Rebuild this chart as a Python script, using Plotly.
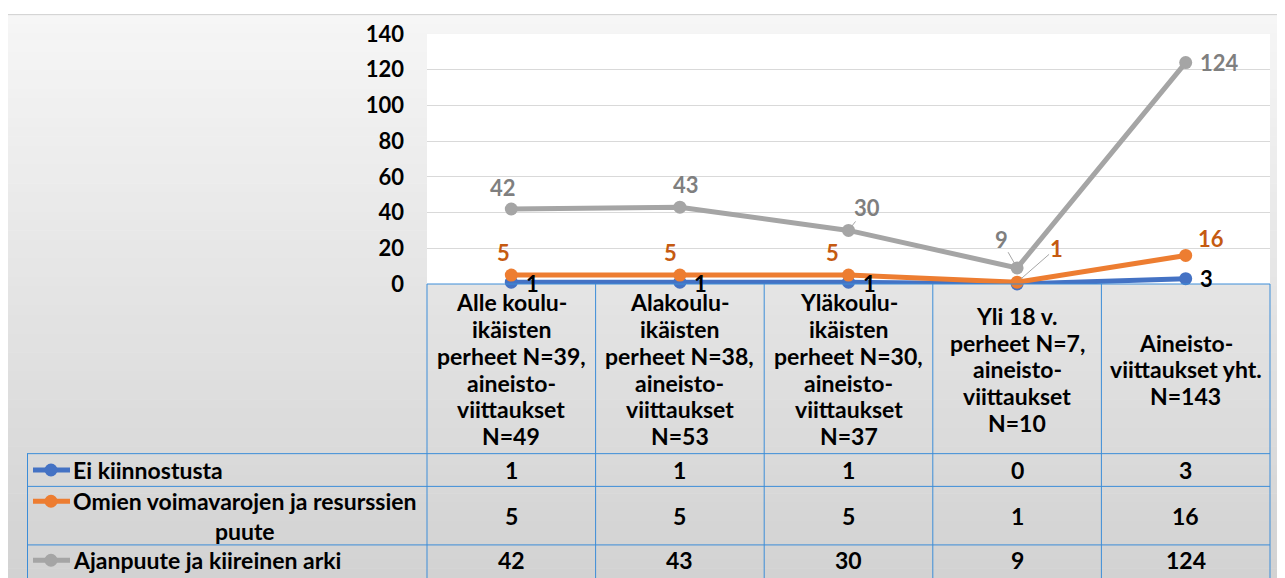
import plotly.graph_objects as go

# ---------------- data ----------------
categories = [
    "Alle koulu-<br>ikäisten<br>perheet N=39,<br>aineisto-<br>viittaukset<br>N=49",
    "Alakoulu-<br>ikäisten<br>perheet N=38,<br>aineisto-<br>viittaukset<br>N=53",
    "Yläkoulu-<br>ikäisten<br>perheet N=30,<br>aineisto-<br>viittaukset<br>N=37",
    "Yli 18 v.<br>perheet N=7,<br>aineisto-<br>viittaukset<br>N=10",
    "Aineisto-<br>viittaukset yht.<br>N=143",
]
series_names = ["Ei kiinnostusta", "Omien voimavarojen ja resurssien puute", "Ajanpuute ja kiireinen arki"]
table_names = ["Ei kiinnostusta", "Omien voimavarojen ja resurssien<br>puute", "Ajanpuute ja kiireinen arki"]
ei_kiinnostusta = [1, 1, 1, 0, 3]
omien_voimavarat = [5, 5, 5, 1, 16]
ajanpuute = [42, 43, 30, 9, 124]
y_ticks = [0, 20, 40, 60, 80, 100, 120, 140]

series_values = [ei_kiinnostusta, omien_voimavarat, ajanpuute]

# ---------------- styles ----------------
OFF = 8                      # page body margin of the html page
W, H = 1285 - OFF, 578 - OFF  # figure size
# reference pixel coordinates of the plot area (window coords)
L, R, T, B = 427, 1270, 32, 284
FONT = "Lato"
line_colors = ["#4472C4", "#ED7D31", "#A5A5A5"]
label_colors = ["#000000", "#C55A11", "#7F7F7F"]
grid_color = "#D9D9D9"
table_color = "#3C8DD8"
leader_color = "#A6A6A6"
# (xshift, yshift, leader line?) for each data label, per series; None = hidden
label_offsets = [
    [(21, -1, False), (21, -1, False), (21, -1, False), None, (21, 0, False)],
    [(-8, 23, False), (-9, 23, False), (-16, 23, False), (39, 34, True), (25, 17, False)],
    [(-8, 22, False), (6, 23, False), (18, 23, True), (-16, 28, True), (34, 0, False)],
]


def px_x(p):
    return (p - L) / (R - L)


def px_y(p):
    return (B - p) / (B - T)


fig = go.Figure()
for name, vals, col in zip(series_names, series_values, line_colors):
    fig.add_trace(go.Scatter(
        x=categories, y=vals, name=name, mode="lines+markers",
        line=dict(color=col, width=5), marker=dict(color=col, size=13),
        cliponaxis=False, hoverinfo="x+y+name",
    ))

shapes = []
# gradient background of chart area
top_px, bot_px = 12, 580
n_bands = 60
step = (bot_px - top_px) / n_bands
for i in range(n_bands):
    y0 = top_px + i * step
    y1 = y0 + step + 0.6
    c = round(246 - (y0 + step / 2 - top_px) * (36 / (bot_px - top_px)))
    shapes.append(dict(type="rect", xref="paper", yref="paper", layer="below",
                       x0=px_x(7), x1=px_x(1290), y0=px_y(y1), y1=px_y(y0),
                       fillcolor=f"rgb({c},{c},{c})", line=dict(width=0)))
# chart border
shapes.append(dict(type="line", xref="paper", yref="paper", layer="below",
                   x0=px_x(7.5), x1=px_x(7.5), y0=px_y(12), y1=px_y(590),
                   line=dict(color="#D0D0D0", width=1)))
shapes.append(dict(type="line", xref="paper", yref="paper", layer="below",
                   x0=px_x(7), x1=px_x(1290), y0=px_y(12.5), y1=px_y(12.5),
                   line=dict(color="#D0D0D0", width=1)))
# white plot area
shapes.append(dict(type="rect", xref="paper", yref="paper", layer="below",
                   x0=0, x1=1, y0=0, y1=1, fillcolor="white", line=dict(width=0)))

# table grid
n = len(categories)
col_edges = [L + (R - L) * i / n for i in range(n + 1)]
row_edges = [455, 488, 547]
tline = dict(color=table_color, width=1)
shapes.append(dict(type="line", xref="paper", yref="paper", x0=0, x1=1, y0=0, y1=0, line=tline))
for ry in row_edges:
    shapes.append(dict(type="line", xref="paper", yref="paper",
                       x0=px_x(27), x1=1, y0=px_y(ry), y1=px_y(ry), line=tline))
for cx in col_edges:
    shapes.append(dict(type="line", xref="paper", yref="paper",
                       x0=px_x(cx), x1=px_x(cx), y0=0, y1=px_y(590), line=tline))
shapes.append(dict(type="line", xref="paper", yref="paper",
                   x0=px_x(27.5), x1=px_x(27.5), y0=px_y(455), y1=px_y(590), line=tline))

# legend keys in table
row_centers = [471.5, 517.5, 562.5]
key_rows = [471.5, 503, 562.5]
for ky, col in zip(key_rows, line_colors):
    shapes.append(dict(type="line", xref="paper", yref="paper",
                       x0=px_x(33), x1=px_x(70), y0=px_y(ky), y1=px_y(ky),
                       line=dict(color=col, width=5)))
    shapes.append(dict(type="circle", xref="paper", yref="paper",
                       x0=px_x(44.5), x1=px_x(57.5), y0=px_y(ky + 6.5), y1=px_y(ky - 6.5),
                       fillcolor=col, line=dict(width=0)))

annotations = []
bold = dict(family=FONT, size=23, color="#000000", weight="bold")
# category header cells: one annotation per line, 27 px line pitch, centred in cell
head_center, pitch = 370, 27
for c in categories:
    lines = c.split("<br>")
    k = len(lines)
    for j, t in enumerate(lines):
        yy = head_center + (j - (k - 1) / 2) * pitch
        annotations.append(dict(x=c, y=px_y(yy), xref="x", yref="paper", text=t,
                                showarrow=False, xanchor="center", yanchor="middle",
                                font=bold))
# table rows
for tname, vals, ry in zip(table_names, series_values, row_centers):
    annotations.append(dict(x=px_x(71), y=px_y(ry), xref="paper", yref="paper",
                            text=tname, showarrow=False, align="center",
                            xanchor="left", yanchor="middle", font=bold))
    for c, v in zip(categories, vals):
        annotations.append(dict(x=c, y=px_y(ry), xref="x", yref="paper", text=str(v),
                                showarrow=False, xanchor="center", yanchor="middle",
                                font=bold))
# data labels
for vals, offs, lc in zip(series_values, label_offsets, label_colors):
    for c, v, o in zip(categories, vals, offs):
        if o is None:
            continue
        lf = dict(family=FONT, size=22, color=lc, weight="bold")
        if o[2]:
            annotations.append(dict(x=c, y=v, xref="x", yref="y", text=str(v),
                                    showarrow=True, ax=o[0], ay=-o[1], arrowhead=0,
                                    arrowwidth=1, arrowcolor=leader_color, standoff=5,
                                    borderpad=0, font=lf))
        else:
            annotations.append(dict(x=c, y=v, xref="x", yref="y", text=str(v),
                                    showarrow=False, xanchor="center", yanchor="middle",
                                    xshift=o[0], yshift=o[1], font=lf))

fig.update_layout(
    width=W, height=H,
    margin=dict(l=L - OFF, r=W - (R - OFF), t=T - OFF, b=H - (B - OFF), pad=0),
    paper_bgcolor="white", plot_bgcolor="white",
    showlegend=False,
    shapes=shapes, annotations=annotations,
    xaxis=dict(type="category", range=[-0.5, n - 0.5], showticklabels=False,
               showgrid=False, zeroline=False, ticks="", fixedrange=True),
    yaxis=dict(range=[0, 140], tickvals=y_ticks, showgrid=True, gridcolor=grid_color,
               gridwidth=1, zeroline=False, ticks="", ticklabelstandoff=22,
               tickfont=dict(family=FONT, size=22, color="#000000", weight="bold"),
               fixedrange=True),
)

fig.write_html("out.html")
